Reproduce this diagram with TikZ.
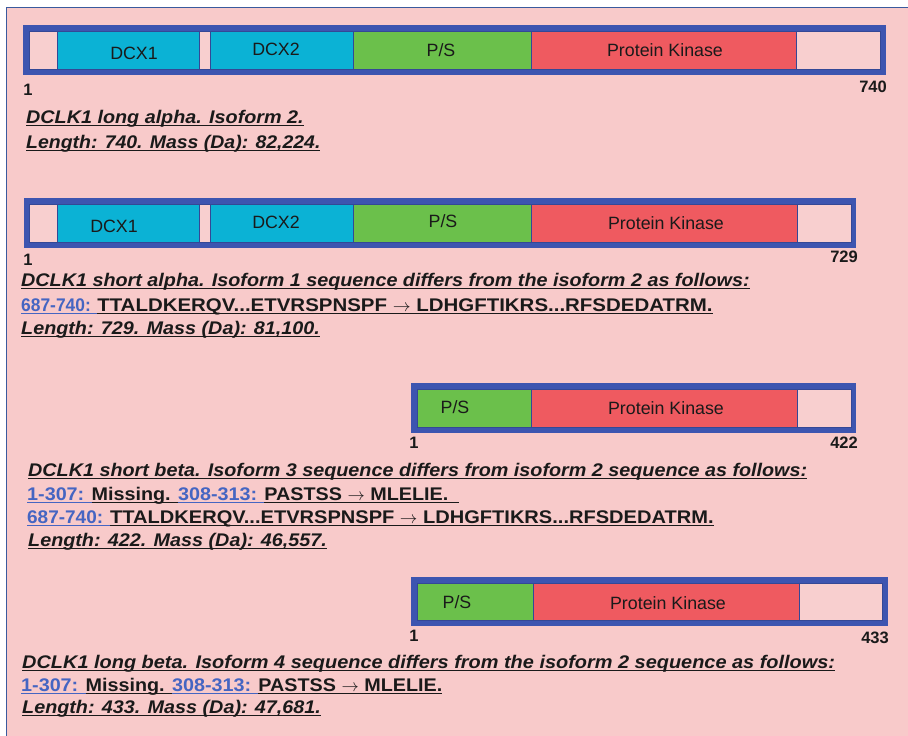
\documentclass[tikz,border=0pt]{standalone}
\usepackage{graphicx}
\usepackage{fontspec}
\setmainfont{Liberation Sans}
\newfontfamily\titlefont[FakeStretch=1.08]{Liberation Sans}
\definecolor{bg}{HTML}{F8CACA}
\definecolor{segpink}{HTML}{F8CFCF}
\definecolor{frameblue}{HTML}{3D55B0}
\definecolor{outline}{HTML}{3A5A9E}
\definecolor{dcx}{HTML}{0BB2D5}
\definecolor{psg}{HTML}{6BC04B}
\definecolor{pkr}{HTML}{EF5A60}
\definecolor{lbl}{HTML}{4565C2}
\definecolor{ink}{HTML}{1A1A1A}
\newsavebox\ulbox
\newcommand\ulx[1]{\sbox\ulbox{#1}\rlap{\rule[-2.8pt]{\wd\ulbox}{1.1pt}}\usebox\ulbox}
\newcommand\seqarrow{ $\rightarrow$ }
\newcommand\sx[2]{\scalebox{#1}[1]{#2}}
\tikzset{
  seglabel/.style={inner sep=0pt, font=\fontsize{17.8}{20}\selectfont, text=ink},
  numlabel/.style={inner sep=0pt, font=\bfseries\fontsize{16.5}{19}\selectfont, text=ink},
  txtline/.style={inner sep=0pt, anchor=base west, text=ink, font=\titlefont\bfseries\fontsize{18.3}{21}\selectfont},
  segfill/.style={draw=frameblue!85!black, line width=0.7pt}
}
\begin{document}
\begin{tikzpicture}[x=1pt,y=-1pt]
\useasboundingbox (0,0) rectangle (908,736);
\fill[white] (0,0) rectangle (908,736);
\fill[bg] (6.5,7.5) rectangle (908,736);
\draw[outline, line width=1.2pt] (6.5,736) -- (6.5,7.5) -- (908,7.5);

% ---------- Bar 1 ----------
\fill[frameblue] (23,25) rectangle (886,75);
\filldraw[segfill, fill=segpink] (29,31) rectangle (57,69);
\filldraw[segfill, fill=dcx] (57,31) rectangle (199,69);
\filldraw[segfill, fill=segpink] (199,31) rectangle (210,69);
\filldraw[segfill, fill=dcx] (210,31) rectangle (353,69);
\filldraw[segfill, fill=psg] (353,31) rectangle (531,69);
\filldraw[segfill, fill=pkr] (531,31) rectangle (796,69);
\filldraw[segfill, fill=segpink] (796,31) rectangle (880,69);
\node[seglabel] (a1) at (134,53) {DCX1};
\node[seglabel] (a2) at (276,49) {DCX2};
\node[seglabel] (a3) at (441,50) {P/S};
\node[seglabel] (a4) at (665,50) {Protein Kinase};
\node[numlabel] (an1) at (28,90) {1};
\node[numlabel, anchor=east] (an2) at (887,87) {740};
\node[txtline] (at1) at (26,123) {\itshape\ulx{DCLK1 long alpha. Isoform 2.}};
\node[txtline] (at2) at (26,148) {\itshape\ulx{\sx{0.985}{Length: 740. Mass (Da): 82,224.}}};

% ---------- Bar 2 ----------
\fill[frameblue] (24,198) rectangle (856,248);
\filldraw[segfill, fill=segpink] (29,204) rectangle (57,242);
\filldraw[segfill, fill=dcx] (57,204) rectangle (199,242);
\filldraw[segfill, fill=segpink] (199,204) rectangle (210,242);
\filldraw[segfill, fill=dcx] (210,204) rectangle (353,242);
\filldraw[segfill, fill=psg] (353,204) rectangle (531,242);
\filldraw[segfill, fill=pkr] (531,204) rectangle (797,242);
\filldraw[segfill, fill=segpink] (797,204) rectangle (851,242);
\node[seglabel] (b1) at (114,226) {DCX1};
\node[seglabel] (b2) at (276,222) {DCX2};
\node[seglabel] (b3) at (443,221) {P/S};
\node[seglabel] (b4) at (666,223) {Protein Kinase};
\node[numlabel] (bn1) at (28,260) {1};
\node[numlabel, anchor=east] (bn2) at (858,257) {729};
\node[txtline] (bt1) at (21,286) {\itshape\ulx{DCLK1 short alpha. Isoform 1 sequence differs from the isoform 2 as follows:}};
\node[txtline] (bt2) at (21,311) {{\color{lbl}\ulx{\sx{0.88}{687-740: }}}\ulx{\sx{1.035}{TTALDKERQV...ETVRSPNSPF\seqarrow LDHGFTIKRS...RFSDEDATRM.}}};
\node[txtline] (bt3) at (21,334) {\itshape\ulx{Length: 729. Mass (Da): 81,100.}};

% ---------- Bar 3 ----------
\fill[frameblue] (411,383) rectangle (856,433);
\filldraw[segfill, fill=psg] (417,389) rectangle (531,427);
\filldraw[segfill, fill=pkr] (531,389) rectangle (797,427);
\filldraw[segfill, fill=segpink] (797,389) rectangle (851,427);
\node[seglabel] (c3) at (455,407) {P/S};
\node[seglabel] (c4) at (666,408) {Protein Kinase};
\node[numlabel] (cn1) at (414,443) {1};
\node[numlabel, anchor=east] (cn2) at (858,443) {422};
\node[txtline] (ct1) at (28,476) {\itshape\ulx{DCLK1 short beta. Isoform 3 sequence differs from isoform 2 sequence as follows:}};
\node[txtline] (ct2) at (27,500) {{\color{lbl}\ulx{1-307: }}\ulx{Missing. }{\color{lbl}\ulx{308-313: }}\ulx{PASTSS\seqarrow MLELIE.\ \ }};
\node[txtline] (ct3) at (27,523) {{\color{lbl}\ulx{\sx{0.96}{687-740: }}}\ulx{\sx{1.015}{TTALDKERQV...ETVRSPNSPF\seqarrow LDHGFTIKRS...RFSDEDATRM.}}};
\node[txtline] (ct4) at (28,546) {\itshape\ulx{Length: 422. Mass (Da): 46,557.}};

% ---------- Bar 4 ----------
\fill[frameblue] (411,577) rectangle (888,626);
\filldraw[segfill, fill=psg] (417,583) rectangle (533,620);
\filldraw[segfill, fill=pkr] (533,583) rectangle (799,620);
\filldraw[segfill, fill=segpink] (799,583) rectangle (882,620);
\node[seglabel] (d3) at (457,602) {P/S};
\node[seglabel] (d4) at (668,603) {Protein Kinase};
\node[numlabel] (dn1) at (414,636) {1};
\node[numlabel, anchor=east] (dn2) at (889,638) {433};
\node[txtline] (dt1) at (22,668) {\itshape\ulx{\sx{1.008}{DCLK1 long beta. Isoform 4 sequence differs from the isoform 2 sequence as follows:}}};
\node[txtline] (dt2) at (21,691) {{\color{lbl}\ulx{1-307: }}\ulx{Missing. }{\color{lbl}\ulx{308-313: }}\ulx{PASTSS\seqarrow MLELIE.}};
\node[txtline] (dt3) at (22,713) {\itshape\ulx{Length: 433. Mass (Da): 47,681.}};
\end{tikzpicture}
\end{document}
